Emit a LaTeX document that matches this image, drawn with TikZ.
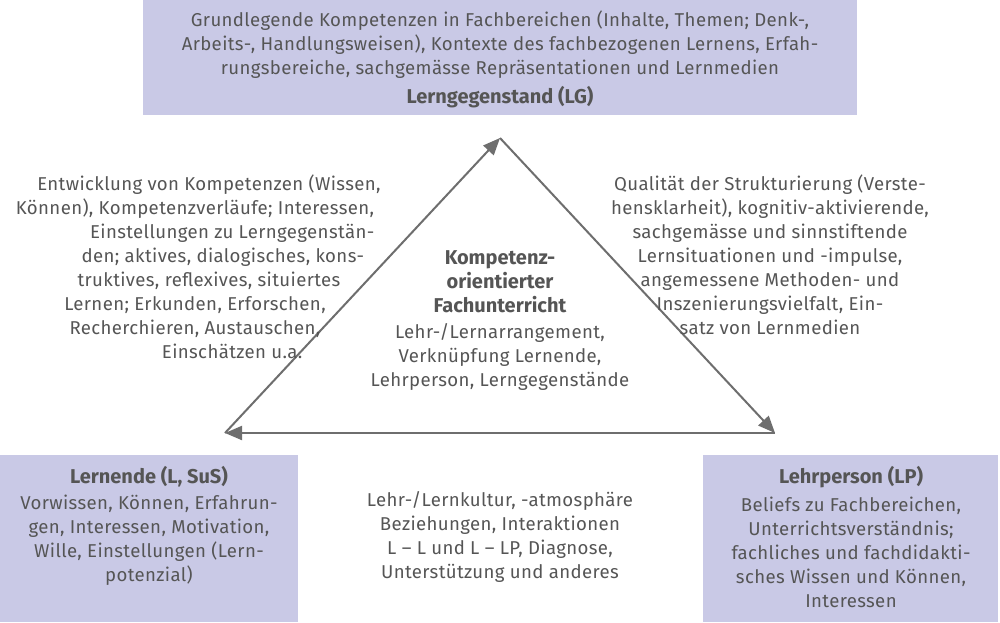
\documentclass[tikz,border=0pt]{standalone}
\usepackage{fontspec}
\setmainfont{Fira Sans}[Scale=1]
\usetikzlibrary{arrows.meta}
\definecolor{boxc}{HTML}{C9C9E6}
\definecolor{txt}{HTML}{555555}
\definecolor{ln}{HTML}{6E6E6E}
\begin{document}
\begin{tikzpicture}[x=1pt,y=-1pt,
  box/.style={fill=boxc,draw=none,anchor=north west},
  t/.style={text=txt,align=center,font=\fontsize{18.6}{24}\selectfont\addfontfeature{LetterSpace=2}},
  hb/.style={text=txt,align=center,font=\fontsize{20}{24}\selectfont\bfseries},
  edge/.style={draw=ln,line width=2pt,-{Triangle[length=17pt,width=14pt]}}]
\useasboundingbox (0,0) rectangle (1000,622);
\fill[boxc] (143,0) rectangle (857,115);
\fill[boxc] (0,455) rectangle (298,622);
\fill[boxc] (703,455) rectangle (998,622);
\node[t] (topt) at (500,45) {Grundlegende Kompetenzen in Fachbereichen (Inhalte, Themen; Denk-,\\Arbeits-, Handlungsweisen), Kontexte des fachbezogenen Lernens, Erfah-\\rungsbereiche, sachgemässe Repräsentationen und Lernmedien};
\node[hb] (toph) at (500,97) {Lerngegenstand (LG)};
\coordinate (A) at (500,138);
\coordinate (L) at (225,433);
\coordinate (R) at (775,433);
\draw[edge] (L) -- (A);
\draw[edge] (A) -- (R);
\draw[edge] (R) -- (L);
\node[hb] (mid) at (500,282) {Kompetenz-\\orientierter\\Fachunterricht};
\node[t] (midt) at (500,357) {Lehr-/Lernarrangement,\\Verknüpfung Lernende,\\Lehrperson, Lerngegenstände};
\node[t] (lt) at (195,267) {\hspace*{1.5em}Entwicklung von Kompetenzen (Wissen,\\Können), Kompetenzverläufe; Interessen,\\\hspace*{4em}Einstellungen zu Lerngegenstän-\\\hspace*{3em}den; aktives, dialogisches, kons-\\\hspace*{1.5em}truktives, reflexives, situiertes\\Lernen; Erkunden, Erforschen,\\Recherchieren, Austauschen,\\\hspace*{4em}Einschätzen u.a.};
\node[t] (rt) at (770,255) {Qualität der Strukturierung (Verste-\\hensklarheit), kognitiv-aktivierende,\\sachgemässe und sinnstiftende\\Lernsituationen und -impulse,\\angemessene Methoden- und\\Inszenierungsvielfalt, Ein-\\satz von Lernmedien};
\node[hb] (lh) at (149,477) {Lernende (L, SuS)};
\node[t] (ltx) at (149,540) {Vorwissen, Können, Erfahrun-\\gen, Interessen, Motivation,\\Wille, Einstellungen (Lern-\\potenzial)};
\node[hb] (rh) at (851,477) {Lehrperson (LP)};
\node[t] (rtx) at (851,552) {Beliefs zu Fachbereichen,\\Unterrichtsverständnis;\\fachliches und fachdidakti-\\sches Wissen und Können,\\Interessen};
\node[t] (bt) at (500,537) {Lehr-/Lernkultur, -atmosphäre\\Beziehungen, Interaktionen\\L – L und L – LP, Diagnose,\\Unterstützung und anderes};
\end{tikzpicture}
\end{document}
